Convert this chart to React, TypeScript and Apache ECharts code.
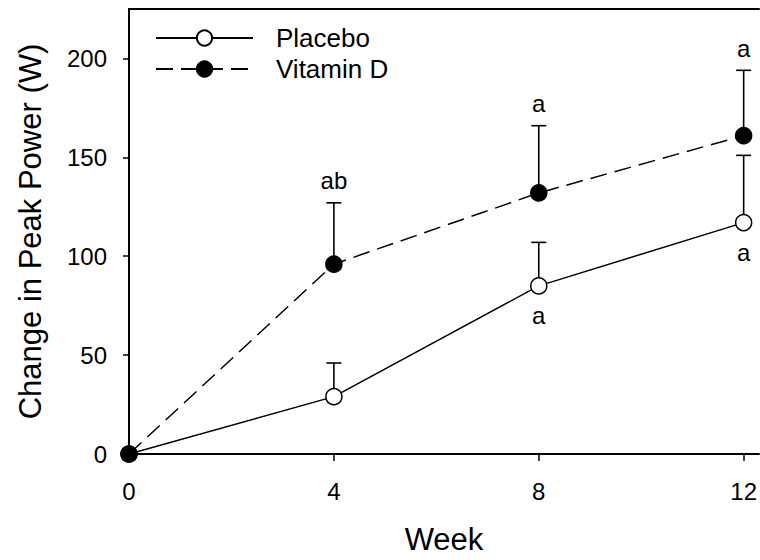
import React, { useEffect, useRef } from "react";
import * as echarts from "echarts";

const weeks = [0, 4, 8, 12];
const placeboMean = [0, 29, 85, 117];
const placeboSE = [0, 17, 22, 34];
const vitaminDMean = [0, 96, 132, 161];
const vitaminDSE = [0, 31, 34, 33];
const placeboLetters = ["", "", "a", "a"];
const vitaminDLetters = ["", "ab", "a", "a"];
const xTicks = [0, 4, 8, 12];
const yTicks = [0, 50, 100, 150, 200];

const FONT = "'Liberation Sans', Arial, sans-serif";
const X_MAX = 12.3;

function errorSeries(name: string, means: number[], ses: number[], letters: string[], above: boolean) {
  return {
    type: "custom",
    name: name + " err",
    z: 1,
    silent: true,
    clip: false,
    data: weeks.map((w, i) => [w, means[i], means[i] + ses[i], i]),
    encode: { x: 0, y: [1, 2] },
    renderItem: (params: any, api: any) => {
      const idx = api.value(3) as number;
      const p = api.coord([api.value(0), api.value(1)]);
      const t = api.coord([api.value(0), api.value(2)]);
      const children: any[] = [];
      const stroke = { stroke: "#000", lineWidth: 1.6 };
      if (ses[idx] > 0) {
        children.push({ type: "line", shape: { x1: p[0], y1: p[1], x2: t[0], y2: t[1] }, style: stroke });
        children.push({ type: "line", shape: { x1: t[0] - 7.5, y1: t[1], x2: t[0] + 7.5, y2: t[1] }, style: stroke });
      }
      const letter = letters[idx];
      if (letter) {
        const y = above ? t[1] - 22 : p[1] + 30;
        children.push({
          type: "text",
          x: p[0],
          y,
          style: { text: letter, fill: "#000", fontSize: 24, fontFamily: FONT, align: "center", verticalAlign: "middle" },
        });
      }
      return { type: "group", children };
    },
  };
}

export default function App() {
  const ref = useRef<HTMLDivElement>(null);
  useEffect(() => {
    document.body.style.margin = "0";
    const chart = echarts.init(ref.current!, null, { renderer: "svg" });
    chart.setOption({
      animation: false,
      textStyle: { fontFamily: FONT, color: "#000" },
      grid: {
        left: 129,
        right: 0,
        top: 9,
        bottom: 106,
      },
      legend: {
        left: 155,
        top: 25,
        orient: "vertical",
        padding: 0,
        itemWidth: 97,
        itemHeight: 19,
        itemGap: 5,
        textStyle: { fontSize: 26, fontFamily: FONT, color: "#000", padding: [0, 0, 0, 18], lineHeight: 26 },
        data: ["Placebo", "Vitamin D"],
      },
      xAxis: [
        {
          type: "value",
          min: 0,
          max: X_MAX,
          name: "Week",
          nameLocation: "middle",
          nameGap: 70,
          nameTextStyle: { fontSize: 31, fontFamily: FONT, color: "#000" },
          axisLine: { show: true, lineStyle: { color: "#000", width: 2 } },
          axisTick: { show: true, length: 7, inside: false, customValues: xTicks, lineStyle: { color: "#000", width: 1.5 } },
          axisLabel: { fontSize: 24, color: "#000", margin: 25, customValues: xTicks, fontFamily: FONT },
          splitLine: { show: false },
        },
        {
          type: "value",
          position: "top",
          min: 0,
          max: X_MAX,
          axisLine: { show: true, lineStyle: { color: "#000", width: 2 } },
          axisTick: { show: false },
          axisLabel: { show: false },
          splitLine: { show: false },
        },
      ],
      yAxis: {
        type: "value",
        min: 0,
        max: 225,
        name: "Change in Peak Power (W)",
        nameLocation: "middle",
        nameGap: 83,
        nameTextStyle: { fontSize: 31, fontFamily: FONT, color: "#000" },
        axisLine: { show: true, lineStyle: { color: "#000", width: 2 } },
        axisTick: { show: true, length: 6, inside: false, customValues: yTicks, lineStyle: { color: "#000", width: 1.5 } },
        axisLabel: { fontSize: 24, color: "#000", margin: 22, customValues: yTicks, fontFamily: FONT },
        splitLine: { show: false },
      },
      series: [
        errorSeries("Placebo", placeboMean, placeboSE, placeboLetters, false),
        errorSeries("Vitamin D", vitaminDMean, vitaminDSE, vitaminDLetters, true),
        {
          type: "line",
          name: "Placebo",
          z: 3,
          data: weeks.map((w, i) => [w, placeboMean[i]]),
          symbol: "circle",
          symbolSize: 16,
          lineStyle: { color: "#000", width: 1.5, type: "solid" },
          itemStyle: { color: "#fff", borderColor: "#000", borderWidth: 1.5 },
        },
        {
          type: "line",
          name: "Vitamin D",
          z: 4,
          data: weeks.map((w, i) => [w, vitaminDMean[i]]),
          symbol: "circle",
          symbolSize: 16,
          lineStyle: { color: "#000", width: 1.5, type: [17, 8] },
          itemStyle: { color: "#000", borderColor: "#000", borderWidth: 1.5 },
        },
      ],
    });
    return () => chart.dispose();
  }, []);
  return <div ref={ref} style={{ width: 760, height: 560 }} />;
}
